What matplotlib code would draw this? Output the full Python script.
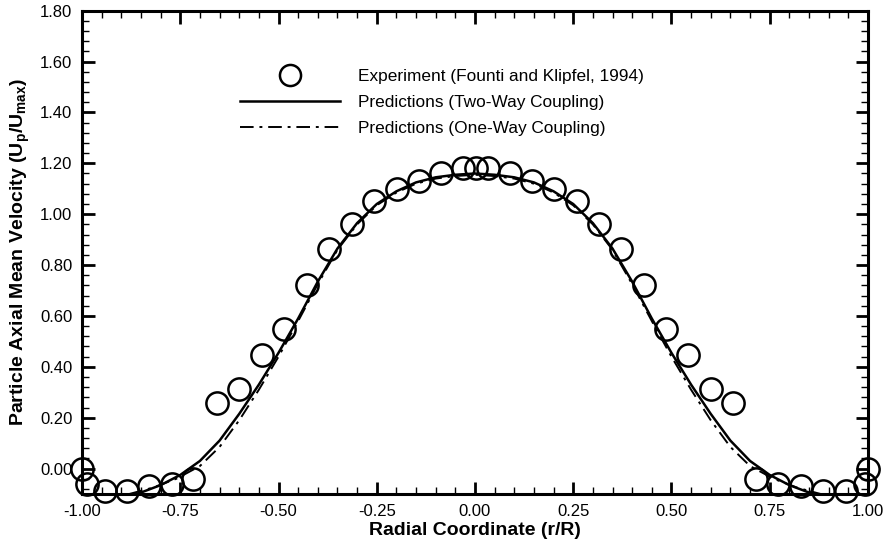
import matplotlib
matplotlib.use("Agg")
import matplotlib.pyplot as plt
from matplotlib.ticker import MultipleLocator, FormatStrFormatter

plt.rcParams['font.family'] = ['Liberation Sans', 'DejaVu Sans']

# experiment (Founti and Klipfel, 1994)
exp_x = [-1.00, -0.988, -0.941, -0.886, -0.83, -0.772, -0.717, -0.657, -0.60,
         -0.542, -0.486, -0.427, -0.371, -0.313, -0.257, -0.198, -0.142, -0.086,
         -0.031, 0.003, 0.033, 0.089, 0.145, 0.20, 0.26, 0.316, 0.371, 0.43,
         0.486, 0.542, 0.60, 0.657, 0.715, 0.772, 0.83, 0.886, 0.943, 0.992, 1.00]
exp_y = [0.00, -0.06, -0.088, -0.088, -0.07, -0.062, -0.04, 0.256, 0.314,
         0.445, 0.547, 0.723, 0.864, 0.963, 1.053, 1.10, 1.13, 1.16,
         1.18, 1.18, 1.18, 1.16, 1.13, 1.10, 1.053, 0.963, 0.864, 0.723,
         0.547, 0.445, 0.314, 0.256, -0.04, -0.062, -0.07, -0.088, -0.088, -0.06, 0.00]

# predictions, two-way coupling
two_x = [-0.86, -0.80, -0.75, -0.70, -0.65, -0.60, -0.55, -0.50, -0.45, -0.40,
         -0.35, -0.30, -0.25, -0.20, -0.15, -0.10, -0.05, 0.00, 0.05, 0.10,
         0.15, 0.20, 0.25, 0.30, 0.35, 0.40, 0.45, 0.50, 0.55, 0.60, 0.65,
         0.70, 0.75, 0.80, 0.86]
two_y = [-0.10, -0.065, -0.025, 0.03, 0.11, 0.215, 0.33, 0.455, 0.59, 0.735,
         0.865, 0.965, 1.04, 1.09, 1.125, 1.145, 1.155, 1.16, 1.155, 1.145,
         1.125, 1.09, 1.04, 0.965, 0.865, 0.735, 0.59, 0.455, 0.33, 0.215, 0.11,
         0.03, -0.025, -0.065, -0.10]

# predictions, one-way coupling
one_x = [-0.88, -0.82, -0.76, -0.70, -0.65, -0.60, -0.55, -0.50, -0.45, -0.40,
         -0.35, -0.30, -0.25, -0.20, -0.15, -0.10, -0.05, 0.00, 0.05, 0.10,
         0.15, 0.20, 0.25, 0.30, 0.35, 0.40, 0.45, 0.50, 0.55, 0.60, 0.65,
         0.70, 0.76, 0.82, 0.88]
one_y = [-0.10, -0.075, -0.04, 0.01, 0.085, 0.19, 0.31, 0.44, 0.58, 0.725,
         0.86, 0.96, 1.035, 1.085, 1.12, 1.14, 1.15, 1.155, 1.15, 1.14,
         1.12, 1.085, 1.035, 0.96, 0.86, 0.725, 0.58, 0.44, 0.31, 0.19, 0.085,
         0.01, -0.04, -0.075, -0.10]

fig = plt.figure(figsize=(8.85, 5.48), dpi=100)
ax = fig.add_axes([0.0927, 0.0985, 0.888, 0.882])

ax.plot(exp_x, exp_y, 'o', ms=16, mfc='none', mec='black', mew=1.8,
        clip_on=False, zorder=5, label='Experiment (Founti and Klipfel, 1994)')
ax.plot(two_x, two_y, '-', color='black', lw=1.8,
        label='Predictions (Two-Way Coupling)')
ax.plot(one_x, one_y, color='black', lw=1.4, dashes=(7, 3, 1.5, 3),
        label='Predictions (One-Way Coupling)')

ax.set_xlim(-1.0, 1.0)
ax.set_ylim(-0.10, 1.80)
ax.xaxis.set_major_locator(MultipleLocator(0.25))
ax.xaxis.set_minor_locator(MultipleLocator(0.05))
ax.yaxis.set_major_locator(MultipleLocator(0.20))
ax.yaxis.set_minor_locator(MultipleLocator(0.04))
ax.xaxis.set_major_formatter(FormatStrFormatter('%.2f'))
ax.yaxis.set_major_formatter(FormatStrFormatter('%.2f'))
ax.tick_params(which='both', direction='in', top=True, right=True,
               labelsize=12, pad=7)
ax.tick_params(which='major', length=9, width=2)
ax.tick_params(which='minor', length=5, width=1)
for s in ax.spines.values():
    s.set_linewidth(2.2)

ax.set_xlabel('Radial Coordinate (r/R)', fontsize=14, fontweight='bold', labelpad=2)
ax.set_ylabel(r'Particle Axial Mean Velocity (U$_\mathregular{p}$/U$_\mathregular{max}$)',
              fontsize=14, fontweight='bold', labelpad=6)

ax.legend(loc='upper left', bbox_to_anchor=(0.192, 0.893), frameon=False,
          fontsize=12.4, handlelength=5.8, handletextpad=1.05, labelspacing=0.62,
          markerscale=0.95, borderaxespad=0)

fig.savefig('out.png', dpi=100)
